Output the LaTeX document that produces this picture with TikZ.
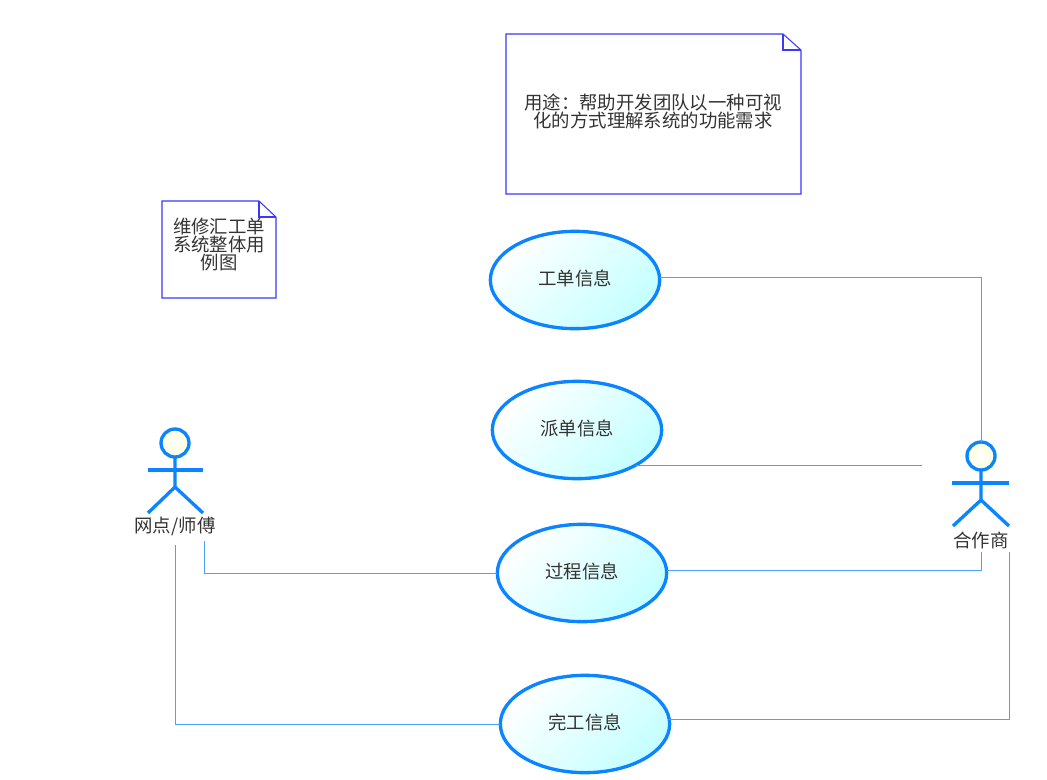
\documentclass[tikz,border=0pt]{standalone}
\usepackage{fontspec}
\setmainfont{Noto Sans CJK SC}
\usepackage{xcolor}
\usetikzlibrary{shapes.geometric, positioning}
\definecolor{actorblue}{HTML}{0A84FF}
\definecolor{linkblue}{HTML}{4DA0FF}
\definecolor{noteblue}{HTML}{3838FF}
\definecolor{headyellow}{HTML}{FFFFD8}
\definecolor{usecasecyan}{HTML}{C4FFFF}
\definecolor{labelgray}{HTML}{333333}

\tikzset{
  usecase/.style={ellipse, draw=actorblue, line width=2.5pt, outer sep=0pt,
    minimum width=127pt, minimum height=73pt, inner sep=0pt, text=labelgray,
    left color=white, right color=usecasecyan, shading angle=45},
  actorhead/.style={circle, draw=actorblue, line width=2.5pt, outer sep=0pt,
    minimum size=21pt, inner sep=0pt, inner color=white, outer color=headyellow},
  actorline/.style={actorblue, line width=2.5pt},
  actorname/.style={text=labelgray, inner sep=0pt, minimum height=#1},
  link/.style={linkblue, line width=0.75pt},
  noteline/.style={noteblue, line width=0.8pt},
  notetext/.style={align=center, inner sep=0pt, text=labelgray}
}

\begin{document}
\begin{tikzpicture}[x=0.75pt, y=-0.75pt, font=\fontsize{13.8}{13.5}\selectfont]
  \useasboundingbox (0, 0) rectangle (1047, 779);
  % purpose note (top)
  \draw[noteline] (506, 34) -- (783, 34) -- (801, 50) -- (801, 194) -- (506, 194) -- cycle;
  \draw[noteline] (783, 34) -- (783, 50) -- (801, 50);
  \node[notetext] (purpose) at (653, 111) {用途：帮助开发团队以一种可视\\化的方式理解系统的功能需求};
  % title note (left)
  \draw[noteline] (162, 201) -- (259, 201) -- (276, 217) -- (276, 298) -- (162, 298) -- cycle;
  \draw[noteline] (259, 201) -- (259, 217) -- (276, 217);
  \node[notetext] (title) at (219, 245) {维修汇工单\\系统整体用\\例图};
  % use cases
  \foreach \name/\x/\y/\txt in {order/575/280/工单信息, dispatch/577/430/派单信息,
      process/582/573/过程信息, finish/585/724/完工信息} {
    \node[usecase] (\name) at (\x, \y) {\raisebox{1.5pt}[\height][\depth]{\txt}};
  }
  % actor (left)
  \node[actorhead] (masterhead) at (175, 443) {};
  \draw[actorline] (masterhead.south) -- (175, 487) -- (148, 513);
  \draw[actorline] (175, 487) -- (203, 513);
  \draw[actorline] (148, 470) -- (203, 470);
  \node[actorname=28pt] (master) at (175, 526) {网点/师傅};
  % actor (right)
  \node[actorhead] (partnerhead) at (981, 456) {};
  \draw[actorline] (partnerhead.south) -- (981, 500) -- (953, 526);
  \draw[actorline] (981, 500) -- (1009, 526);
  \draw[actorline] (952, 483) -- (1009, 483);
  \node[actorname=18pt] (partner) at (981, 540) {合作商};
  % free ends of the links
  \coordinate (dispatchend) at (922, 465);
  \coordinate (masterport) at (204, 541);
  \coordinate (partnerport) at (1009, 552);
  % links
  \draw[link] (order.2) -| (partnerhead.north);
  \draw[link] (dispatch.-31) -- (dispatch.-31 -| dispatchend);
  \draw[link] (process.2) -| (partner.south);
  \draw[link] (process.west) -| (masterport);
  \draw[link] (finish.3) -| (partnerport);
  \draw[link] (finish.west) -| (master.south);
\end{tikzpicture}
\end{document}
